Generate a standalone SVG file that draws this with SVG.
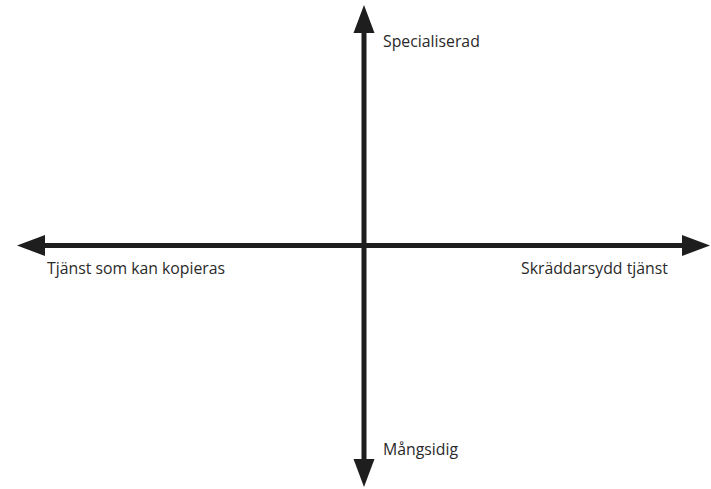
<svg xmlns="http://www.w3.org/2000/svg" width="711" height="489" viewBox="0 0 711 489">
<style>
.ax{stroke:#1e1e1e;stroke-width:5;fill:none}
.hd{fill:#1e1e1e}
text{font-family:"Open Sans","Noto Sans",sans-serif;font-size:15.8px;fill:#2a2a2a}
</style>
<rect width="711" height="489" fill="#fff"/>
<g id="connectors">
<line class="ax" x1="364" y1="30" x2="364" y2="462"/>
<polygon class="hd" points="364,5 353.5,33 374.5,33"/>
<polygon class="hd" points="364,487 353.5,459 374.5,459"/>
<line class="ax" x1="42" y1="245.5" x2="686" y2="245.5"/>
<polygon class="hd" points="17,245.5 45,235 45,256"/>
<polygon class="hd" points="710,245.5 682,235 682,256"/>
</g>
<g id="top"><text x="383" y="47">Specialiserad</text></g>
<g id="left"><text x="47" y="274">Tjänst som kan kopieras</text></g>
<g id="right"><text x="521" y="274">Skräddarsydd tjänst</text></g>
<g id="bottom"><text x="383" y="455">Mångsidig</text></g>
</svg>
